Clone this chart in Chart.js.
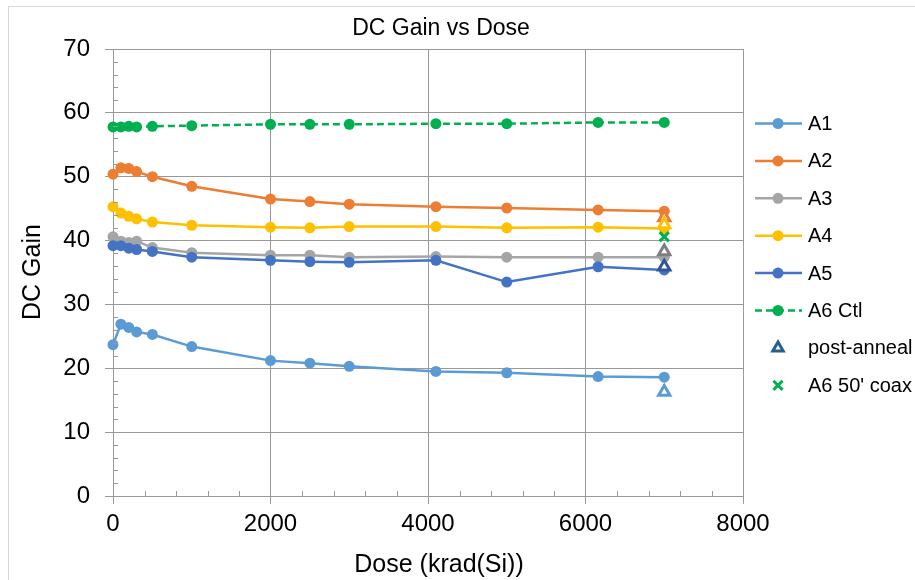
<!DOCTYPE html>
<html>
<head>
<meta charset="utf-8">
<title>DC Gain vs Dose</title>
<script src="https://cdn.jsdelivr.net/npm/chart.js@4/dist/chart.umd.min.js"></script>
<style>
    html, body { margin: 0; padding: 0; background: #fff; }
    #wrap { width: 915px; height: 580px; }
</style>
</head>
<body>
<div id="wrap"><canvas id="gainChart" width="915" height="580"></canvas></div>
<script>
// Dose steps (krad(Si)) and measured DC gain per part
const dose = [0, 100, 200, 300, 500, 1000, 2000, 2500, 3000, 4100, 5000, 6160, 7000];
const a1 = [23.7, 26.9, 26.4, 25.7, 25.3, 23.4, 21.2, 20.8, 20.3, 19.5, 19.3, 18.7, 18.6];
const a2 = [50.4, 51.4, 51.3, 50.8, 50.0, 48.5, 46.5, 46.1, 45.7, 45.3, 45.1, 44.8, 44.6];
const a3 = [40.6, 39.9, 39.7, 39.9, 38.9, 38.1, 37.7, 37.7, 37.4, 37.5, 37.4, 37.4, 37.4];
const a4 = [45.3, 44.3, 43.8, 43.4, 42.9, 42.4, 42.1, 42.0, 42.2, 42.2, 42.0, 42.1, 41.9];
const a5 = [39.2, 39.2, 38.8, 38.6, 38.3, 37.4, 36.9, 36.7, 36.6, 36.9, 33.5, 35.9, 35.4];
const a6Ctl = [57.8, 57.8, 57.9, 57.8, 57.9, 58.0, 58.2, 58.2, 58.2, 58.3, 58.3, 58.5, 58.5];

// Post-anneal readings (A1..A5) and the A6 reading through 50' coax, all at the last dose
const annealDose = 7000;
const postAnneal = [16.3, 43.6, 38.3, 42.5, 35.9];
const coaxGain = [40.6];

const seriesNames = ['A1', 'A2', 'A3', 'A4', 'A5', 'A6 Ctl'];
const seriesColors = ['#5b9bd5', '#ed7d31', '#a5a5a5', '#ffc000', '#4472c4', '#00b050'];
const annealColors = ['#5b9bd5', '#ed7d31', '#7f7f7f', '#ffc000', '#2f5597'];

const xTicks = { min: 0, max: 8000, step: 2000 };
const yTicks = { min: 0, max: 70, step: 10 };

const FONT = "'Liberation Sans', Arial, sans-serif";
const GRID = '#999999';

function toPoints(xs, ys) {
    return ys.map((y, i) => ({ x: xs[i], y: y }));
}

const lineSets = [a1, a2, a3, a4, a5, a6Ctl].map((vals, i) => ({
    label: seriesNames[i],
    data: toPoints(dose, vals),
    borderColor: seriesColors[i],
    backgroundColor: seriesColors[i],
    borderWidth: 2.5,
    borderDash: i === 5 ? [7, 4] : [],
    pointRadius: 5.5,
    pointHoverRadius: 5.5,
    pointBorderWidth: 0,
    pointBackgroundColor: seriesColors[i],
    tension: 0,
    clip: false,
    order: 10 - i
}));

const annealSet = {
    label: 'post-anneal',
    data: postAnneal.map(v => ({ x: annealDose, y: v })),
    showLine: false,
    pointStyle: 'triangle',
    pointRadius: 6.5,
    pointBorderWidth: 3,
    pointBorderColor: annealColors,
    pointBackgroundColor: '#ffffff',
    clip: false,
    order: 1
};

const coaxSet = {
    label: "A6 50' coax",
    data: coaxGain.map(v => ({ x: annealDose, y: v })),
    showLine: false,
    pointStyle: 'crossRot',
    pointRadius: 6.5,
    pointBorderWidth: 3,
    pointBorderColor: '#00b050',
    clip: false,
    order: 0
};

// Legend rows: line + marker entries, then the two marker-only entries
const legendRows = [
    ...seriesNames.map((n, i) => ({ text: n, color: seriesColors[i], line: true, dash: i === 5 })),
    { text: 'post-anneal', color: '#255e91', style: 'triangle' },
    { text: "A6 50' coax", color: '#00b050', style: 'crossRot' }
];

const decorPlugin = {
    id: 'decor',
    beforeDraw(chart) {
        const ctx = chart.ctx;
        ctx.save();
        ctx.fillStyle = '#fff';
        ctx.fillRect(0, 0, chart.width, chart.height);
        ctx.strokeStyle = '#d9d9d9';
        ctx.lineWidth = 1;
        ctx.strokeRect(8.5, 6.5, 1200, 1200);
        ctx.restore();
    },
    afterDraw(chart) {
        const ctx = chart.ctx;
        const xs = chart.scales.x, ys = chart.scales.y;
        const area = chart.chartArea;
        ctx.save();

        // minor tick marks, pointing into the plot
        ctx.strokeStyle = GRID;
        ctx.lineWidth = 1;
        ctx.beginPath();
        for (let v = 0; v <= yTicks.max; v += 2) {
            if (v % yTicks.step === 0) continue;
            const py = Math.round(ys.getPixelForValue(v)) + 0.5;
            ctx.moveTo(area.left, py);
            ctx.lineTo(area.left + 5, py);
        }
        for (let v = 0; v <= xTicks.max; v += 400) {
            if (v % xTicks.step === 0) continue;
            const px = Math.round(xs.getPixelForValue(v)) + 0.5;
            ctx.moveTo(px, area.bottom);
            ctx.lineTo(px, area.bottom - 5);
        }
        ctx.stroke();

        // titles
        ctx.fillStyle = '#000';
        ctx.textAlign = 'center';
        ctx.textBaseline = 'middle';
        ctx.font = '23px ' + FONT;
        ctx.fillText('DC Gain vs Dose', 441, 29);
        ctx.font = '25px ' + FONT;
        ctx.fillText('Dose (krad(Si))', 439, 565);
        ctx.save();
        ctx.translate(33, 272);
        ctx.rotate(-Math.PI / 2);
        ctx.fillText('DC Gain', 0, 0);
        ctx.restore();

        // legend
        ctx.font = '20px ' + FONT;
        ctx.textAlign = 'left';
        legendRows.forEach((row, i) => {
            const y = 123.5 + i * 37.4;
            const cx = 778;
            if (row.line) {
                ctx.strokeStyle = row.color;
                ctx.lineWidth = 2.5;
                ctx.setLineDash(row.dash ? [7, 4] : []);
                ctx.beginPath();
                ctx.moveTo(755, y);
                ctx.lineTo(802, y);
                ctx.stroke();
                ctx.setLineDash([]);
                ctx.fillStyle = row.color;
                ctx.beginPath();
                ctx.arc(cx, y, 5.5, 0, Math.PI * 2);
                ctx.fill();
            } else {
                const isTri = row.style === 'triangle';
                ctx.strokeStyle = row.color;
                ctx.fillStyle = '#fff';
                ctx.lineWidth = 3;
                Chart.helpers.drawPoint(ctx, {
                    pointStyle: row.style, radius: isTri ? 6 : 6.5, borderWidth: 3
                }, cx, y);
            }
            ctx.fillStyle = '#000';
            ctx.fillText(row.text, 808, y + 1);
        });
        ctx.restore();
    }
};

new Chart(document.getElementById('gainChart'), {
    type: 'line',
    data: { datasets: [...lineSets, annealSet, coaxSet] },
    options: {
        responsive: false,
        animation: false,
        layout: { padding: { top: 49, right: 172, left: 0, bottom: 0 } },
        plugins: {
            legend: { display: false },
            title: { display: false },
            tooltip: { enabled: false }
        },
        scales: {
            x: {
                type: 'linear',
                min: xTicks.min,
                max: xTicks.max,
                ticks: {
                    stepSize: xTicks.step, color: '#000', font: { family: FONT, size: 24 }, padding: 6, maxRotation: 0,
                    callback: v => String(v)
                },
                grid: { color: GRID, tickColor: GRID, tickLength: 8, lineWidth: 1 },
                border: { color: GRID, width: 1 },
                afterFit(scale) { scale.height = 84; }
            },
            y: {
                min: yTicks.min,
                max: yTicks.max,
                ticks: { stepSize: yTicks.step, color: '#000', font: { family: FONT, size: 24 }, padding: 15 },
                grid: { color: GRID, tickColor: GRID, tickLength: 8, lineWidth: 1 },
                border: { color: GRID, width: 1 },
                afterFit(scale) { scale.width = 113; }
            }
        }
    },
    plugins: [decorPlugin]
});
</script>
</body>
</html>
